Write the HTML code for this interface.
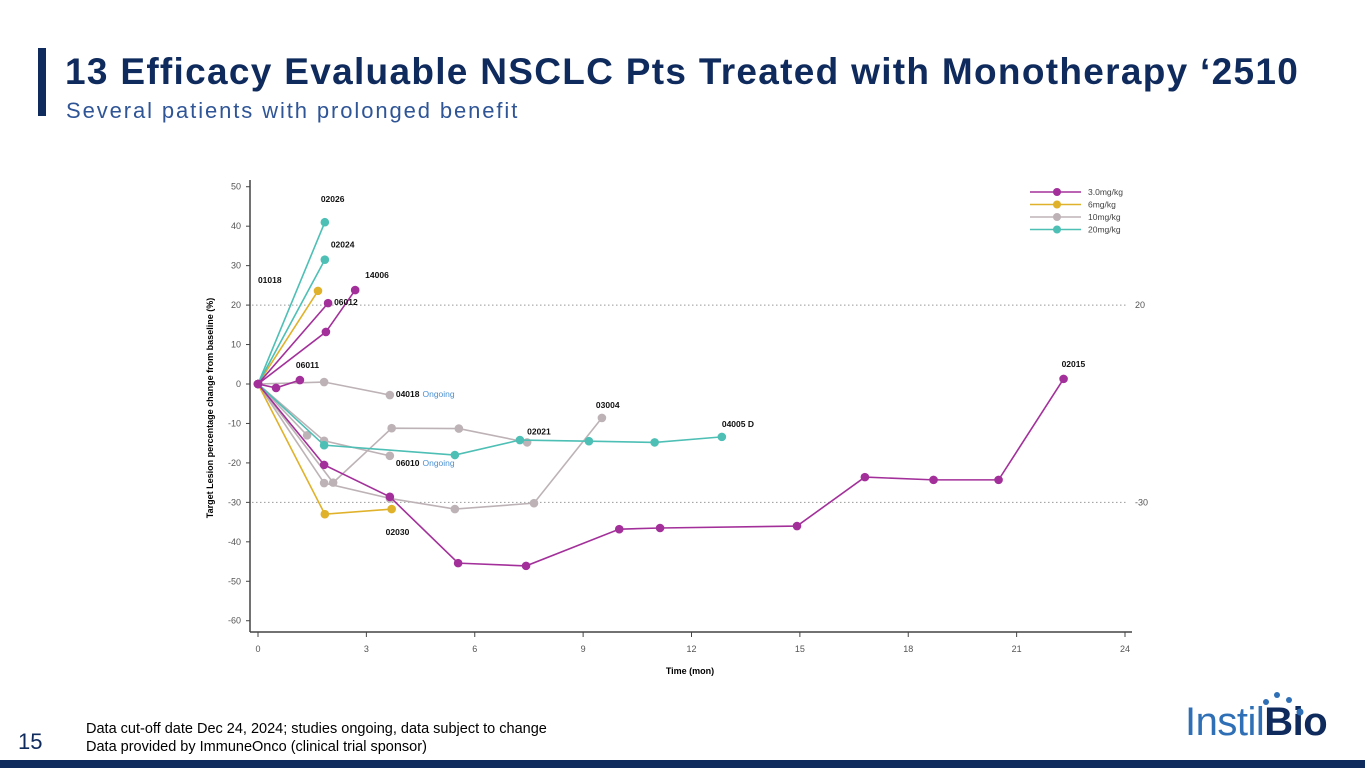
<!DOCTYPE html>
<html><head><meta charset="utf-8"><style>
body{margin:0;width:1365px;height:768px;background:#fff;position:relative;overflow:hidden;font-family:"Liberation Sans",sans-serif}
.abs{position:absolute}
</style></head><body>
<div class="abs" style="left:38px;top:48px;width:8px;height:68px;background:#0f2a5c"></div>
<div class="abs" style="left:65px;top:51px;font-size:37px;letter-spacing:1.3px;font-weight:bold;color:#0f2a5c;white-space:nowrap">13 Efficacy Evaluable NSCLC Pts Treated with Monotherapy ‘2510</div>
<div class="abs" style="left:66px;top:98px;font-size:22px;color:#2f5597;letter-spacing:1.9px;white-space:nowrap">Several patients with prolonged benefit</div>
<svg class="abs" style="left:0;top:0" width="1365" height="768" id="chart"></svg>
<div class="abs" style="left:86px;top:720px;font-size:14.5px;line-height:18px;color:#000">Data cut-off date Dec 24, 2024; studies ongoing, data subject to change<br>Data provided by ImmuneOnco (clinical trial sponsor)</div>
<div class="abs" style="left:18px;top:729px;font-size:22px;color:#0f2a5c">15</div>
<div class="abs" style="left:1185px;top:700px;font-size:40px;color:#2f6fb5;white-space:nowrap;letter-spacing:-0.5px">Instil<b style="color:#0f2a5c">Bio</b></div>
<svg class="abs" style="left:1255px;top:690px" width="50" height="30"><circle cx="11" cy="12" r="3" fill="#2f6fb5"/><circle cx="22" cy="5" r="3" fill="#2f6fb5"/><circle cx="34" cy="10" r="3" fill="#2f6fb5"/><circle cx="45" cy="22" r="3.5" fill="#2f6fb5"/></svg>
<div class="abs" style="left:0;top:760px;width:1365px;height:8px;background:#0f2a5c"></div>
<script>
const doseNames=["3.0mg/kg","6mg/kg","10mg/kg","20mg/kg"];
const doseColors=["#a3309a","#e0b22b","#bdb3b6","#4dbfb5"];
const seriesDose=[3,3,1,0,0,0,0,2,2,2,2,3,1];
const seriesT=[[0,1.85],[0,1.85],[0,1.66],[0,1.94],[0,1.88,2.69],[0,0.5,1.16],[0,1.83,3.65,5.54,7.42,10,11.13,14.92,16.8,18.7,20.5,22.3],[0,1.83,3.65],[0,1.83,3.65],[0,2.08,3.7,5.56,7.45],[0,1.83,3.65,5.45,7.64,9.52],[0,1.83,5.45,7.25,9.16,10.98,12.84],[0,1.85,3.7]];
const seriesV=[[0,41],[0,31.5],[0,23.6],[0,20.5],[0,13.2,23.8],[0,-1,1],[0,-20.5,-28.6,-45.4,-46.1,-36.8,-36.5,-36,-23.6,-24.3,-24.3,1.3],[0,0.5,-2.8],[0,-14.4,-18.2],[0,-25,-11.2,-11.3,-14.8],[0,-25.1,-29,-31.7,-30.2,-8.6],[0,-15.5,-18,-14.2,-14.5,-14.8,-13.4],[0,-33,-31.7]];
const extraGrayT=[0,1.36];const extraGrayV=[0,-13];
const labels=["02026","02024","01018","06012","14006","06011","02015","04018","06010","02021","03004","04005 D","02030"];
const labelDx=[-4,6,-60,6,10,-4,-2,6,6,0,-6,0,-6];
const labelDy=[-20,-12,-8,2,-12,-12,-12,2,10,-8,-10,-10,26];
const ongoing=[7,8];
const xTicks=[0,3,6,9,12,15,18,21,24];
const yTicks=[50,40,30,20,10,0,-10,-20,-30,-40,-50,-60];
const refLines=[20,-30];
const X=t=>258+t*(1125-258)/24;
const Y=v=>384-v*(621-187)/110;
const svg=document.getElementById('chart');
const NS='http://www.w3.org/2000/svg';
function mk(tag,attrs,parent){const e=document.createElementNS(NS,tag);for(const k in attrs)e.setAttribute(k,attrs[k]);(parent||svg).appendChild(e);return e;}
let ax=mk('line',{x1:250,y1:180,x2:250,y2:632,stroke:'#444','stroke-width':1.5});


ax=mk('line',{x1:250,y1:632,x2:1132,y2:632,stroke:'#444','stroke-width':1.5});


yTicks.forEach(v=>{mk('line',{x1:246,x2:250,y1:Y(v),y2:Y(v),stroke:'#444'});const t=mk('text',{x:241,y:Y(v)+3,'font-size':9,'text-anchor':'end',fill:'#555'});t.textContent=v;

});
xTicks.forEach(v=>{mk('line',{x1:X(v),x2:X(v),y1:632,y2:637,stroke:'#444'});const t=mk('text',{x:X(v),y:652,'font-size':9,'text-anchor':'middle',fill:'#555'});t.textContent=v;

});
refLines.forEach(v=>{const l=mk('line',{x1:252,x2:1128,y1:Y(v),y2:Y(v),stroke:'#999','stroke-dasharray':'1.5 2.5'});


const t=mk('text',{x:1135,y:Y(v)+3,'font-size':9,fill:'#555'});t.textContent=v;});
let tt=mk('text',{x:690,y:674,'font-size':9,'font-weight':'bold','text-anchor':'middle'});tt.textContent='Time (mon)';


tt=mk('text',{x:0,y:0,'font-size':9,'font-weight':'bold','text-anchor':'middle',transform:'translate(213,408) rotate(-90)'});tt.textContent='Target Lesion percentage change from baseline (%)';


function drawSeries(T,V,color,name){const p=mk('polyline',{points:T.map((t,i)=>X(t)+','+Y(V[i])).join(' '),fill:'none',stroke:color,'stroke-width':1.6});


T.forEach((t,i)=>{const c=mk('circle',{cx:X(t),cy:Y(V[i]),r:4.3,fill:color});

});}
drawSeries(extraGrayT,extraGrayV,doseColors[2],'patient-gray');
[2,7,8,9,10,11,12,0,1,3,4,5,6].forEach(i=>drawSeries(seriesT[i],seriesV[i],doseColors[seriesDose[i]],'patient-'+labels[i].replace(' ','-')));
labels.forEach((lab,i)=>{const T=seriesT[i],V=seriesV[i],n=T.length-1;const t=mk('text',{x:X(T[n])+labelDx[i],y:Y(V[n])+labelDy[i],'font-size':8.5,'font-weight':'bold',fill:'#111'});t.textContent=lab;


if(ongoing.includes(i)){const o=mk('tspan',{fill:'#4a90d0','font-weight':'normal',dx:3},t);o.textContent='Ongoing';}});
doseNames.forEach((d,i)=>{const y=192+i*12.5;mk('line',{x1:1030,x2:1081,y1:y,y2:y,stroke:doseColors[i],'stroke-width':1.6});mk('circle',{cx:1057,cy:y,r:4,fill:doseColors[i]});const t=mk('text',{x:1088,y:y+3,'font-size':8.5,fill:'#444'});t.textContent=d;

});
</script>
</body></html>
